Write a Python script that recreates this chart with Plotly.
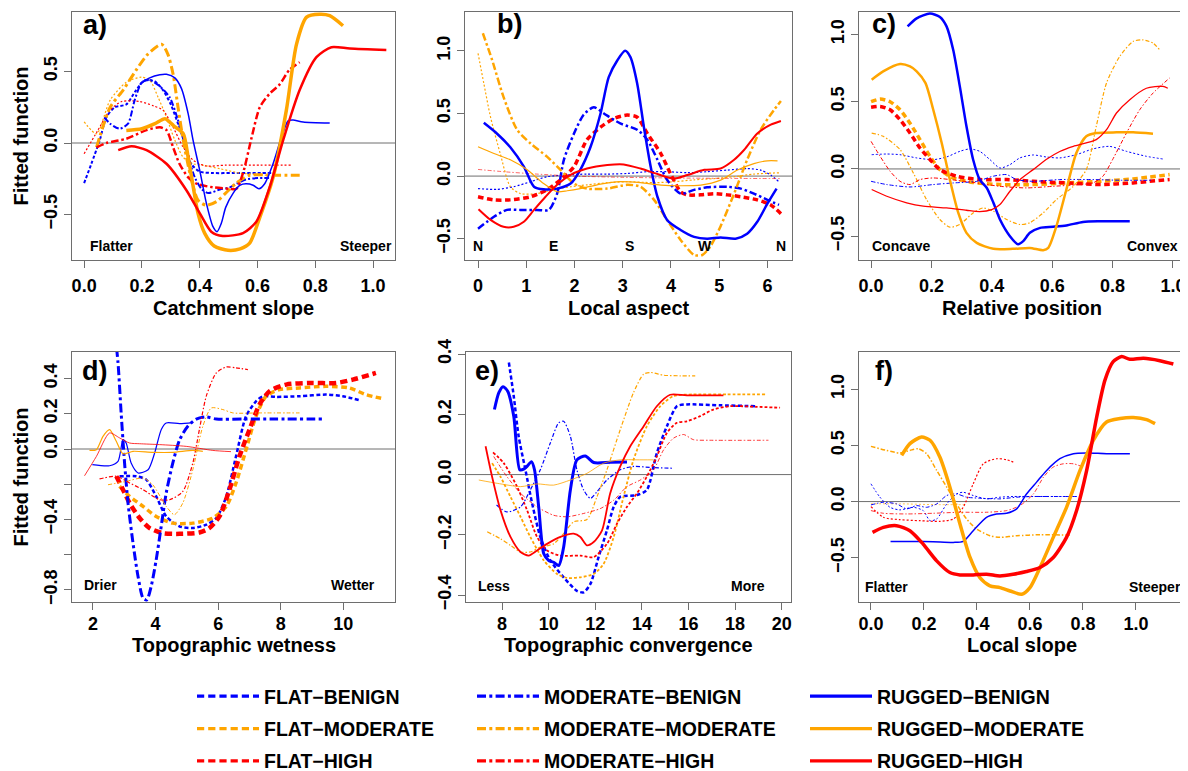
import plotly.graph_objects as go

# ---------------- data ----------------
# Panel a: Catchment slope
a_fb_x = [0, 0.025, 0.054, 0.077, 0.106, 0.146, 0.18, 0.21, 0.245, 0.273, 0.30, 0.325, 0.348, 0.37, 0.40, 0.446, 0.516, 0.61, 0.65]
a_fb_y = [-0.28, -0.145, 0.02, 0.18, 0.25, 0.27, 0.37, 0.44, 0.43, 0.37, 0.27, 0.135, 0.0, -0.145, -0.2, -0.21, -0.21, -0.21, -0.21]
a_fm_x = [0, 0.043, 0.09, 0.146, 0.198, 0.227, 0.256, 0.285, 0.314, 0.343, 0.377, 0.41, 0.47, 0.54, 0.63]
a_fm_y = [0.147, 0.065, 0.30, 0.425, 0.46, 0.44, 0.32, 0.18, 0.02, -0.10, -0.145, -0.155, -0.18, -0.21, -0.225]
a_fh_x = [0, 0.045, 0.09, 0.13, 0.193, 0.24, 0.273, 0.308, 0.343, 0.377, 0.42, 0.49, 0.61, 0.717]
a_fh_y = [-0.075, 0.08, 0.23, 0.29, 0.29, 0.26, 0.23, 0.11, -0.03, -0.12, -0.16, -0.155, -0.155, -0.155]
a_mb_x = [0.07, 0.09, 0.123, 0.152, 0.175, 0.2, 0.227, 0.26, 0.296, 0.325, 0.354, 0.383, 0.406, 0.43, 0.47, 0.504, 0.527, 0.56, 0.60, 0.64]
a_mb_y = [0.18, 0.135, 0.10, 0.135, 0.30, 0.425, 0.44, 0.40, 0.32, 0.16, -0.05, -0.24, -0.32, -0.35, -0.325, -0.31, -0.285, -0.255, -0.245, -0.245]
a_mm_x = [0.043, 0.09, 0.135, 0.18, 0.22, 0.268, 0.29, 0.308, 0.325, 0.343, 0.366, 0.394, 0.423, 0.458, 0.49, 0.527, 0.573, 0.654, 0.758]
a_mm_y = [-0.03, 0.25, 0.37, 0.51, 0.62, 0.69, 0.62, 0.48, 0.25, 0.02, -0.21, -0.4, -0.435, -0.41, -0.35, -0.28, -0.225, -0.225, -0.225]
a_mh_x = [0.043, 0.077, 0.146, 0.216, 0.262, 0.285, 0.308, 0.33, 0.36, 0.39, 0.446, 0.504, 0.527, 0.55, 0.58, 0.608, 0.642, 0.677, 0.71, 0.746]
a_mh_y = [-0.03, 0.0, 0.03, 0.09, 0.11, 0.09, -0.03, -0.145, -0.24, -0.285, -0.31, -0.32, -0.32, -0.21, 0.04, 0.25, 0.345, 0.41, 0.51, 0.565]
a_rb_x = [0.193, 0.227, 0.262, 0.285, 0.314, 0.337, 0.36, 0.377, 0.40, 0.423, 0.446, 0.46, 0.475, 0.49, 0.516, 0.54, 0.56, 0.585, 0.605, 0.625, 0.654, 0.683, 0.706, 0.723, 0.758, 0.85]
a_rb_y = [0.41, 0.455, 0.477, 0.48, 0.455, 0.38, 0.205, 0.02, -0.19, -0.42, -0.585, -0.62, -0.56, -0.45, -0.35, -0.295, -0.285, -0.295, -0.32, -0.285, -0.145, 0.04, 0.155, 0.16, 0.147, 0.14]
a_rm_x = [0.146, 0.2, 0.245, 0.28, 0.31, 0.343, 0.36, 0.377, 0.394, 0.417, 0.45, 0.498, 0.54, 0.573, 0.608, 0.654, 0.70, 0.735, 0.77, 0.815, 0.85, 0.896]
a_rm_y = [0.088, 0.1, 0.135, 0.17, 0.12, 0.065, -0.1, -0.3, -0.49, -0.63, -0.72, -0.75, -0.74, -0.70, -0.52, -0.24, 0.23, 0.69, 0.88, 0.90, 0.89, 0.82]
a_rh_x = [0.118, 0.164, 0.216, 0.285, 0.354, 0.40, 0.44, 0.48, 0.55, 0.596, 0.642, 0.689, 0.746, 0.804, 0.856, 0.92, 1.046]
a_rh_y = [-0.05, -0.023, -0.05, -0.145, -0.33, -0.49, -0.62, -0.65, -0.63, -0.55, -0.31, 0.02, 0.37, 0.60, 0.67, 0.66, 0.65]

# Panel b: Local aspect
b_fb_x = [0, 0.39, 0.74, 1.09, 1.43, 1.78, 2.26, 2.68, 3.09, 3.51, 3.92, 4.34, 4.75, 5.17, 5.58, 5.86, 6.07, 6.24]
b_fb_y = [-0.1, -0.106, -0.085, -0.045, -0.005, 0.008, 0.016, 0.016, 0.021, 0.035, 0.035, 0.027, 0.035, 0.048, 0.06, 0.048, 0.008, -0.045]
b_fm_x = [0, 0.12, 0.26, 0.46, 0.67, 0.88, 1.22, 1.57, 1.92, 2.26, 2.68, 3.09, 3.65, 4.06, 4.48, 4.89, 5.31, 5.72, 6.28]
b_fm_y = [0.98, 0.74, 0.47, 0.18, -0.085, -0.14, -0.14, -0.106, -0.085, -0.07, -0.053, -0.045, -0.053, -0.045, -0.03, -0.02, -0.005, 0.016, 0.027]
b_fh_x = [0, 0.33, 0.67, 1.09, 1.43, 1.71, 1.99, 2.26, 2.54, 2.82, 3.09, 3.3, 3.51, 3.79, 3.99, 4.2, 4.34, 4.62, 4.89, 5.17, 5.45, 5.79, 6.07, 6.28]
b_fh_y = [-0.165, -0.19, -0.19, -0.165, -0.11, -0.03, 0.075, 0.29, 0.39, 0.46, 0.487, 0.47, 0.34, 0.18, 0.02, -0.125, -0.15, -0.15, -0.14, -0.15, -0.165, -0.19, -0.23, -0.3]
b_mb_x = [0, 0.33, 0.6, 0.88, 1.22, 1.47, 1.64, 1.78, 1.99, 2.19, 2.4, 2.61, 2.95, 3.3, 3.51, 3.72, 3.92, 4.2, 4.48, 4.75, 5.17, 5.45, 5.72, 6.0, 6.24]
b_mb_y = [-0.42, -0.325, -0.27, -0.27, -0.27, -0.27, -0.14, 0.13, 0.34, 0.49, 0.55, 0.5, 0.42, 0.37, 0.29, 0.13, -0.03, -0.14, -0.11, -0.09, -0.085, -0.1, -0.14, -0.19, -0.23]
b_mm_x = [0.1, 0.29, 0.53, 0.81, 1.09, 1.43, 1.71, 1.99, 2.26, 2.68, 3.09, 3.37, 3.65, 3.92, 4.2, 4.48, 4.65, 4.82, 5.03, 5.31, 5.58, 5.86, 6.14, 6.28]
b_mm_y = [1.14, 0.93, 0.63, 0.37, 0.26, 0.155, 0.05, -0.06, -0.1, -0.1, -0.07, -0.085, -0.19, -0.35, -0.51, -0.63, -0.63, -0.56, -0.4, -0.14, 0.13, 0.37, 0.53, 0.6]
b_mh_x = [0, 0.53, 1.22, 2.0, 3.0, 4.0, 5.0, 6.28]
b_mh_y = [0.053, 0.035, 0.016, 0.0, -0.01, -0.015, -0.018, -0.02]
b_rb_x = [0.12, 0.39, 0.67, 0.95, 1.16, 1.36, 1.64, 1.92, 2.12, 2.33, 2.54, 2.71, 2.89, 3.05, 3.16, 3.3, 3.44, 3.58, 3.72, 3.92, 4.2, 4.48, 4.75, 5.03, 5.34, 5.58, 5.79, 6.0, 6.19]
b_rb_y = [0.425, 0.34, 0.23, 0.075, -0.085, -0.106, -0.1, -0.06, 0.05, 0.23, 0.5, 0.79, 0.925, 1.0, 0.95, 0.74, 0.39, 0.075, -0.165, -0.35, -0.43, -0.485, -0.5, -0.49, -0.5, -0.46, -0.365, -0.22, -0.1]
b_rm_x = [0, 0.33, 0.67, 1.02, 1.36, 1.64, 1.85, 2.12, 2.54, 2.95, 3.37, 3.79, 4.2, 4.62, 5.03, 5.38, 5.72, 6.0, 6.21]
b_rm_y = [0.234, 0.18, 0.13, 0.05, -0.06, -0.125, -0.117, -0.1, -0.064, -0.045, -0.053, -0.072, -0.077, -0.072, -0.032, 0.048, 0.1, 0.122, 0.122]
b_rh_x = [0.01, 0.26, 0.53, 0.74, 0.95, 1.16, 1.4, 1.64, 1.92, 2.26, 2.68, 3.02, 3.37, 3.72, 4.06, 4.34, 4.69, 5.03, 5.31, 5.52, 5.79, 6.07, 6.28]
b_rh_y = [-0.265, -0.35, -0.405, -0.405, -0.365, -0.27, -0.165, -0.07, 0.01, 0.06, 0.088, 0.093, 0.06, 0.016, -0.02, 0.008, 0.05, 0.06, 0.13, 0.21, 0.34, 0.41, 0.44]

# Panel c: Relative position
c_fb_x = [0.002, 0.052, 0.096, 0.151, 0.206, 0.25, 0.294, 0.327, 0.36, 0.394, 0.427, 0.46, 0.493, 0.537, 0.58, 0.625, 0.68, 0.735, 0.79, 0.846, 0.912, 0.967]
c_fb_y = [0.106, 0.111, 0.106, 0.082, 0.069, 0.089, 0.131, 0.149, 0.131, 0.069, 0.007, 0.032, 0.082, 0.104, 0.089, 0.082, 0.106, 0.149, 0.168, 0.131, 0.094, 0.074]
c_fm_x = [0, 0.03, 0.063, 0.096, 0.129, 0.162, 0.195, 0.228, 0.272, 0.338, 0.427, 0.537, 0.647, 0.757, 0.868, 0.923, 0.989]
c_fm_y = [0.5, 0.52, 0.5, 0.44, 0.34, 0.218, 0.094, -0.005, -0.067, -0.1, -0.116, -0.116, -0.104, -0.092, -0.074, -0.06, -0.042]
c_fh_x = [0, 0.03, 0.063, 0.096, 0.129, 0.162, 0.195, 0.228, 0.283, 0.36, 0.449, 0.537, 0.647, 0.757, 0.868, 0.923, 0.989]
c_fh_y = [0.458, 0.465, 0.44, 0.366, 0.267, 0.156, 0.07, -0.005, -0.054, -0.079, -0.079, -0.092, -0.104, -0.116, -0.104, -0.092, -0.079]
c_mb_x = [0, 0.052, 0.129, 0.206, 0.272, 0.35, 0.405, 0.449, 0.482, 0.537, 0.625, 0.735, 0.824, 0.934]
c_mb_y = [-0.092, -0.116, -0.134, -0.116, -0.104, -0.092, -0.054, -0.042, -0.079, -0.092, -0.079, -0.079, -0.084, -0.084]
c_mm_x = [0.002, 0.04, 0.096, 0.14, 0.184, 0.228, 0.261, 0.294, 0.338, 0.371, 0.405, 0.449, 0.493, 0.526, 0.57, 0.614, 0.67, 0.713, 0.746, 0.78, 0.824, 0.868, 0.9, 0.934, 0.956]
c_mm_y = [0.267, 0.243, 0.144, -0.03, -0.228, -0.376, -0.433, -0.413, -0.327, -0.29, -0.314, -0.376, -0.413, -0.4, -0.327, -0.228, -0.129, -0.005, 0.317, 0.639, 0.837, 0.948, 0.96, 0.936, 0.886]
c_mh_x = [0, 0.03, 0.063, 0.096, 0.129, 0.162, 0.206, 0.261, 0.338, 0.427, 0.515, 0.603, 0.691, 0.735, 0.768, 0.8, 0.846, 0.89, 0.934, 0.989]
c_mh_y = [0.205, 0.094, -0.017, -0.092, -0.116, -0.079, -0.067, -0.079, -0.1, -0.129, -0.141, -0.129, -0.116, -0.104, -0.054, 0.069, 0.267, 0.44, 0.564, 0.676]
c_rb_x = [0.121, 0.151, 0.195, 0.228, 0.25, 0.272, 0.294, 0.316, 0.338, 0.36, 0.383, 0.405, 0.427, 0.46, 0.487, 0.504, 0.526, 0.56, 0.603, 0.647, 0.702, 0.757, 0.857]
c_rb_y = [1.06, 1.12, 1.155, 1.13, 1.06, 0.886, 0.614, 0.317, 0.07, -0.08, -0.14, -0.25, -0.376, -0.5, -0.56, -0.537, -0.475, -0.438, -0.43, -0.42, -0.394, -0.389, -0.389]
c_rm_x = [0.002, 0.04, 0.096, 0.129, 0.151, 0.18, 0.206, 0.234, 0.261, 0.289, 0.316, 0.35, 0.405, 0.47, 0.526, 0.57, 0.587, 0.614, 0.647, 0.68, 0.713, 0.746, 0.813, 0.868, 0.934]
c_rm_y = [0.663, 0.725, 0.78, 0.762, 0.725, 0.64, 0.44, 0.193, -0.08, -0.327, -0.475, -0.55, -0.594, -0.594, -0.587, -0.604, -0.587, -0.426, -0.153, 0.119, 0.243, 0.267, 0.272, 0.272, 0.262]
c_rh_x = [0.002, 0.052, 0.118, 0.173, 0.25, 0.316, 0.36, 0.4, 0.427, 0.46, 0.493, 0.537, 0.58, 0.625, 0.67, 0.713, 0.746, 0.78, 0.813, 0.857, 0.912, 0.967, 0.983]
c_rh_y = [-0.153, -0.203, -0.252, -0.277, -0.29, -0.307, -0.317, -0.302, -0.265, -0.166, -0.08, -0.005, 0.07, 0.13, 0.168, 0.193, 0.218, 0.292, 0.416, 0.515, 0.6, 0.614, 0.6]

# Panel d: Topographic wetness
d_fb_x = [2.85, 3.38, 3.7, 4.02, 4.34, 4.77, 5.19, 5.62, 5.94, 6.26, 6.57, 6.89, 7.21, 7.43, 7.85, 8.6, 9.45, 9.98, 10.51]
d_fb_y = [-0.155, -0.155, -0.174, -0.269, -0.383, -0.44, -0.449, -0.43, -0.392, -0.269, -0.042, 0.186, 0.271, 0.3, 0.296, 0.3, 0.309, 0.3, 0.277]
d_fm_x = [2.85, 3.17, 3.6, 4.02, 4.55, 5.19, 5.83, 6.26, 6.57, 6.89, 7.21, 7.53, 7.96, 8.6, 9.45, 10.19, 10.72, 11.31]
d_fm_y = [-0.212, -0.269, -0.326, -0.383, -0.421, -0.421, -0.392, -0.326, -0.193, -0.004, 0.186, 0.3, 0.337, 0.347, 0.356, 0.347, 0.309, 0.284]
d_fh_x = [2.745, 2.96, 3.17, 3.49, 3.81, 4.23, 4.77, 5.4, 5.72, 6.04, 6.36, 6.68, 7.0, 7.32, 7.64, 8.17, 8.91, 9.77, 10.3, 11.04]
d_fh_y = [-0.155, -0.231, -0.307, -0.392, -0.449, -0.478, -0.482, -0.474, -0.449, -0.383, -0.231, -0.042, 0.11, 0.252, 0.328, 0.366, 0.375, 0.375, 0.394, 0.432]
d_mb_x = [2.69, 2.8, 2.9, 3.01, 3.12, 3.28, 3.44, 3.6, 3.72, 3.86, 4.02, 4.18, 4.34, 4.55, 4.77, 5.03, 5.3, 5.62, 5.94, 6.79, 7.85, 9.34]
d_mb_y = [0.68, 0.49, 0.205, -0.08, -0.307, -0.535, -0.724, -0.847, -0.857, -0.78, -0.63, -0.44, -0.25, -0.08, 0.053, 0.129, 0.17, 0.182, 0.17, 0.17, 0.17, 0.17]
d_mm_x = [2.48, 3.06, 3.6, 3.91, 4.34, 4.6, 4.87, 5.19, 5.51, 5.78, 6.15, 6.47, 7.32, 8.6]
d_mm_y = [-0.203, -0.184, -0.165, -0.203, -0.326, -0.373, -0.307, -0.118, 0.129, 0.233, 0.224, 0.205, 0.205, 0.205]
d_mh_x = [2.21, 2.745, 3.17, 3.6, 4.13, 4.45, 4.87, 5.19, 5.4, 5.62, 5.94, 6.26, 6.57, 6.95]
d_mh_y = [-0.17, -0.155, -0.193, -0.231, -0.288, -0.288, -0.241, -0.08, 0.11, 0.3, 0.432, 0.466, 0.461, 0.451]
d_rb_x = [1.98, 2.53, 2.8, 2.96, 3.06, 3.22, 3.44, 3.76, 3.97, 4.18, 4.34, 4.77, 5.19]
d_rb_y = [-0.089, -0.095, -0.07, 0.053, 0.034, -0.08, -0.136, -0.118, -0.023, 0.11, 0.148, 0.144, 0.15]
d_rm_x = [1.89, 2.11, 2.32, 2.53, 2.745, 2.96, 3.28, 3.91, 4.55, 5.19, 5.51]
d_rm_y = [-0.008, -0.004, 0.072, 0.11, 0.044, -0.027, -0.013, -0.019, -0.019, -0.008, -0.013]
d_rh_x = [1.73, 2.11, 2.53, 2.85, 3.17, 3.49, 4.13, 4.98, 5.83, 6.41]
d_rh_y = [-0.152, -0.042, 0.091, 0.063, 0.034, 0.03, 0.025, 0.015, -0.008, -0.015]

# Panel e: Topographic convergence
e_fb_x = [8.29, 8.5, 8.71, 9.0, 9.29, 9.64, 10.07, 10.64, 11.21, 11.5, 11.79, 12.14, 12.5, 12.79, 13.07, 13.79, 14.21, 14.64, 15.07, 15.5, 15.93, 17.36, 18.93]
e_fb_y = [0.372, 0.26, 0.127, 0.016, -0.096, -0.207, -0.285, -0.341, -0.386, -0.391, -0.363, -0.274, -0.185, -0.107, -0.074, -0.068, -0.051, 0.071, 0.16, 0.227, 0.233, 0.23, 0.227]
e_fm_x = [7.57, 7.93, 8.36, 8.79, 9.21, 9.79, 10.36, 10.79, 11.36, 11.93, 12.36, 12.79, 13.21, 13.64, 14.21, 14.79, 15.36, 16.21, 17.64, 19.29]
e_fm_y = [0.038, -0.007, -0.074, -0.14, -0.207, -0.285, -0.33, -0.343, -0.341, -0.33, -0.296, -0.207, -0.074, 0.049, 0.16, 0.227, 0.261, 0.266, 0.266, 0.266]
e_fh_x = [7.61, 8.07, 8.64, 9.07, 9.5, 9.93, 10.5, 11.36, 11.93, 12.5, 12.93, 13.36, 13.79, 14.21, 14.64, 15.07, 15.5, 15.93, 16.5, 17.07, 17.79, 18.93, 19.93]
e_fh_y = [0.074, 0.038, -0.04, -0.118, -0.207, -0.252, -0.269, -0.269, -0.274, -0.23, -0.163, -0.107, -0.062, -0.007, 0.06, 0.138, 0.172, 0.177, 0.194, 0.216, 0.227, 0.225, 0.222]
e_mb_x = [7.76, 8.21, 8.79, 9.21, 9.64, 10.07, 10.43, 10.64, 10.93, 11.21, 11.5, 11.79, 12.07, 12.5, 13.07, 13.64, 14.5, 15.36]
e_mb_y = [-0.101, -0.124, -0.107, -0.051, 0.016, 0.105, 0.172, 0.177, 0.127, 0.016, -0.051, -0.079, -0.057, -0.018, 0.016, 0.027, 0.023, 0.021]
e_mm_x = [7.36, 7.93, 8.36, 8.79, 9.21, 9.64, 10.21, 10.64, 11.07, 11.64, 12.07, 12.5, 13.07, 13.64, 14.07, 14.36, 14.93, 15.64, 16.29]
e_mm_y = [-0.19, -0.213, -0.235, -0.257, -0.257, -0.241, -0.23, -0.196, -0.157, -0.149, -0.074, 0.016, 0.149, 0.272, 0.333, 0.339, 0.33, 0.328, 0.328]
e_mh_x = [7.64, 8.21, 8.79, 9.5, 10.21, 10.79, 11.5, 12.21, 12.79, 13.36, 13.93, 14.5, 14.93, 15.36, 15.79, 16.21, 16.93, 19.43]
e_mh_y = [0.06, -0.007, -0.062, -0.107, -0.135, -0.14, -0.129, -0.113, -0.085, -0.04, -0.018, 0.016, 0.082, 0.121, 0.133, 0.116, 0.114, 0.114]
e_rb_x = [7.67, 7.86, 8.04, 8.24, 8.5, 8.76, 8.93, 9.07, 9.26, 9.39, 9.57, 9.79, 10.0, 10.21, 10.43, 10.64, 10.93, 11.21, 11.57, 11.93, 12.64, 13.36]
e_rb_y = [0.216, 0.272, 0.292, 0.277, 0.194, 0.016, 0.018, 0.027, 0.043, 0.016, -0.107, -0.263, -0.285, -0.291, -0.302, -0.241, -0.051, 0.049, 0.062, 0.04, 0.041, 0.042]
e_rm_x = [7.0, 7.79, 8.79, 9.5, 10.21, 10.93, 11.64, 12.36, 13.07, 13.79, 14.5]
e_rm_y = [-0.018, -0.029, -0.04, -0.031, -0.035, -0.018, 0.004, 0.038, 0.049, 0.049, 0.049]
e_rh_x = [7.29, 7.57, 7.93, 8.36, 8.79, 9.14, 9.5, 9.93, 10.5, 11.07, 11.36, 11.64, 11.93, 12.29, 12.64, 13.07, 13.5, 14.07, 14.64, 15.21, 15.93, 17.5]
e_rh_y = [0.094, -0.007, -0.118, -0.207, -0.257, -0.269, -0.252, -0.23, -0.207, -0.196, -0.207, -0.235, -0.224, -0.185, -0.062, 0.027, 0.094, 0.16, 0.227, 0.265, 0.263, 0.263]

# Panel f: Local slope
f_fb_x = [0, 0.034, 0.072, 0.109, 0.16, 0.197, 0.223, 0.248, 0.286, 0.323, 0.348, 0.386, 0.436, 0.487, 0.537, 0.613, 0.688, 0.776]
f_fb_y = [0.158, 0.039, -0.051, -0.074, -0.051, -0.08, -0.17, -0.155, -0.021, 0.068, 0.083, 0.054, 0.024, 0.039, 0.045, 0.045, 0.045, 0.045]
f_fm_x = [0, 0.109, 0.235, 0.361]
f_fm_y = [-0.02, -0.02, -0.027, -0.027]
f_fh_x = [0, 0.047, 0.109, 0.185, 0.26, 0.311, 0.348, 0.386, 0.424, 0.474, 0.512, 0.537]
f_fh_y = [-0.045, -0.14, -0.161, -0.17, -0.176, -0.155, -0.051, 0.158, 0.336, 0.381, 0.372, 0.351]
f_mb_x = [0, 0.047, 0.097, 0.135, 0.172, 0.21, 0.248, 0.286, 0.323, 0.361, 0.411, 0.487, 0.55, 0.613, 0.688, 0.776]
f_mb_y = [-0.03, -0.006, -0.021, -0.065, -0.036, -0.051, -0.021, 0.054, 0.068, 0.039, 0.03, 0.024, 0.039, 0.045, 0.045, 0.045]
f_mm_x = [0, 0.059, 0.109, 0.147, 0.179, 0.21, 0.248, 0.286, 0.323, 0.361, 0.399, 0.449, 0.487, 0.55, 0.638, 0.751]
f_mm_y = [0.491, 0.455, 0.432, 0.455, 0.47, 0.426, 0.277, 0.128, -0.021, -0.155, -0.244, -0.304, -0.318, -0.304, -0.295, -0.298]
f_mh_x = [0, 0.047, 0.135, 0.235, 0.336, 0.436, 0.512, 0.562, 0.613, 0.651, 0.688, 0.726, 0.764, 0.801]
f_mh_y = [-0.08, -0.104, -0.11, -0.104, -0.095, -0.095, -0.08, -0.036, 0.068, 0.217, 0.307, 0.336, 0.336, 0.307]
f_rb_x = [0.074, 0.16, 0.235, 0.311, 0.348, 0.386, 0.436, 0.474, 0.512, 0.55, 0.587, 0.625, 0.663, 0.713, 0.764, 0.814, 0.889, 0.977]
f_rb_y = [-0.354, -0.354, -0.357, -0.363, -0.354, -0.259, -0.14, -0.11, -0.104, -0.065, 0.068, 0.173, 0.277, 0.381, 0.426, 0.432, 0.426, 0.426]
f_rm_x = [0.116, 0.147, 0.191, 0.223, 0.26, 0.298, 0.336, 0.374, 0.411, 0.449, 0.487, 0.525, 0.569, 0.6, 0.638, 0.688, 0.738, 0.789, 0.839, 0.889, 0.94, 0.99, 1.04, 1.072]
f_rm_y = [0.41, 0.515, 0.574, 0.545, 0.396, 0.128, -0.199, -0.497, -0.676, -0.75, -0.765, -0.795, -0.824, -0.765, -0.586, -0.318, -0.051, 0.277, 0.545, 0.708, 0.738, 0.747, 0.729, 0.693]
f_rh_x = [0.006, 0.047, 0.097, 0.147, 0.197, 0.248, 0.298, 0.336, 0.386, 0.436, 0.487, 0.537, 0.587, 0.638, 0.688, 0.738, 0.776, 0.814, 0.852, 0.883, 0.914, 0.946, 0.977, 1.028, 1.09, 1.141]
f_rh_y = [-0.274, -0.229, -0.214, -0.259, -0.378, -0.527, -0.631, -0.652, -0.652, -0.646, -0.661, -0.646, -0.622, -0.586, -0.497, -0.318, -0.08, 0.277, 0.753, 1.08, 1.244, 1.289, 1.265, 1.274, 1.253, 1.223]

SERIES = ["FLAT\u2212BENIGN", "FLAT\u2212MODERATE", "FLAT\u2212HIGH",
          "MODERATE\u2212BENIGN", "MODERATE\u2212MODERATE", "MODERATE\u2212HIGH",
          "RUGGED\u2212BENIGN", "RUGGED\u2212MODERATE", "RUGGED\u2212HIGH"]
KEYS = ["fb", "fm", "fh", "mb", "mm", "mh", "rb", "rm", "rh"]

X_TITLES = ["Catchment slope", "Local aspect", "Relative position",
            "Topographic wetness", "Topographic convergence", "Local slope"]

# ---------------- styling ----------------
OFF = 8  # page body margin of the browser
W, H = 1188 - OFF, 771 - OFF   # figure fits the window without overflow
COLORS = {"b": "#0000FF", "m": "#FFA500", "h": "#FF0000"}
WIDTHS = {
    "a": dict(fb=2.0, fm=1.2, fh=1.2, mb=2.0, mm=3.0, mh=2.5, rb=1.5, rm=3.5, rh=2.5),
    "b": dict(fb=1.2, fm=1.2, fh=3.5, mb=2.5, mm=2.5, mh=0.6, rb=2.5, rm=1.2, rh=2.0),
    "c": dict(fb=1.0, fm=3.5, fh=3.5, mb=1.0, mm=1.2, mh=1.0, rb=2.5, rm=2.5, rh=1.3),
    "d": dict(fb=2.5, fm=3.5, fh=4.5, mb=3.0, mm=1.0, mh=1.2, rb=1.2, rm=1.2, rh=0.8),
    "e": dict(fb=2.5, fm=1.8, fh=1.8, mb=1.2, mm=1.2, mh=0.8, rb=3.0, rm=0.8, rh=1.8),
    "f": dict(fb=1.0, fm=0.7, fh=1.2, mb=1.0, mm=1.5, mh=0.8, rb=1.5, rm=3.5, rh=3.5),
}


def dash_for(kind, w):
    if kind == "f":
        on = max(2.0, min(7.5, 1.6 * w))
        off = max(2.0, min(4.0, 1.0 * w))
        return f"{on:.1f}px,{off:.1f}px"
    if kind == "m":
        lg, gp, sh = max(4.0, 3.0 * w), max(2.0, 1.1 * w), max(1.5, 1.0 * w)
        return f"{lg:.1f}px,{gp:.1f}px,{sh:.1f}px,{gp:.1f}px"
    return "solid"


def px_x(p):
    return (p - OFF) / W


def px_y(p):
    return 1 - (p - OFF) / H


FONT = "Liberation Sans, Arial, sans-serif"

BOXES = {
    "a": (72, 395, 12, 260), "b": (465, 792, 12, 260), "c": (859, 1185, 12, 260),
    "d": (72, 395, 352, 602), "e": (466, 791, 352, 602), "f": (859, 1185, 352, 602),
}
RANGES = {
    "a": ([-0.042, 1.076], [-0.818, 0.916]),
    "b": ([-0.27, 6.51], [-0.67, 1.31]),
    "c": ([-0.04, 1.04], [-0.677, 1.167]),
    "d": ([1.33, 11.65], [-0.869, 0.551]),
    "e": ([6.45, 20.4], [-0.423, 0.407]),
    "f": ([-0.045, 1.185], [-0.893, 1.33]),
}
XTICKS = {
    "a": [0, 0.2, 0.4, 0.6, 0.8, 1.0], "b": [0, 1, 2, 3, 4, 5, 6],
    "c": [0, 0.2, 0.4, 0.6, 0.8, 1.0], "d": [2, 4, 6, 8, 10],
    "e": [8, 10, 12, 14, 16, 18, 20], "f": [0, 0.2, 0.4, 0.6, 0.8, 1.0],
}
YTICKS = {
    "a": [-0.5, 0, 0.5], "b": [-0.5, 0, 0.5, 1.0], "c": [-0.5, 0, 0.5, 1.0],
    "d": [-0.8, -0.6, -0.4, -0.2, 0, 0.2, 0.4], "e": [-0.4, -0.2, 0, 0.2, 0.4],
    "f": [-0.5, 0, 0.5, 1.0],
}
XTITLE_Y = {"a": 308, "b": 308, "c": 308, "d": 645, "e": 645, "f": 645}
XLABEL_STANDOFF = {"a": 2, "b": 2, "c": 2, "d": -2, "e": -2, "f": -2}


def fmt(v, dec):
    s = f"{v:.{dec}f}"
    return s.replace("-", "\u2212")


fig = go.Figure()
panels = ["a", "b", "c", "d", "e", "f"]
g = globals()
layout = dict(width=W, height=H, margin=dict(l=0, r=0, t=0, b=0, autoexpand=False),
              paper_bgcolor="white", plot_bgcolor="white", showlegend=True)
shapes, annotations = [], []

for i, p in enumerate(panels):
    sfx = "" if i == 0 else str(i + 1)
    xa, ya = "x" + sfx, "y" + sfx
    for k in KEYS:
        w = WIDTHS[p][k]
        fig.add_trace(go.Scatter(
            x=g[f"{p}_{k}_x"], y=g[f"{p}_{k}_y"], mode="lines",
            line=dict(color=COLORS[k[1]], width=w, dash=dash_for(k[0], w),
                      shape="spline", smoothing=0.7),
            xaxis=xa, yaxis=ya, showlegend=False, hoverinfo="skip"))
    l, r, t, b = BOXES[p]
    xr, yr = RANGES[p]
    axcommon = dict(showgrid=False, zeroline=False, showline=True, mirror=True,
                    linecolor="#6e6e6e", linewidth=1, ticks="outside", ticklen=7,
                    tickcolor="#6e6e6e", tickwidth=1, automargin=False,
                    tickfont=dict(family=FONT, size=18, color="black", weight="bold"))
    xdec = 0 if p in ("b", "d", "e") else 1
    yt = YTICKS[p]
    ytext = [fmt(v, 1) for v in yt]
    if p == "d":
        ytext = [("" if abs(v + 0.2) < 1e-9 or abs(v + 0.6) < 1e-9 else fmt(v, 1)) for v in yt]
    layout["xaxis" + sfx] = dict(
        axcommon, domain=[px_x(l), px_x(r)], range=xr, anchor=ya,
        tickvals=XTICKS[p], ticktext=[fmt(v, xdec) for v in XTICKS[p]],
        ticklabelstandoff=XLABEL_STANDOFF[p])
    ydict = dict(axcommon, domain=[px_y(b), px_y(t)], range=yr, anchor=xa,
                 tickvals=yt, ticktext=ytext, tickangle=-90)
    if p in ("a", "d"):
        ydict["title"] = dict(text="Fitted function",
                              font=dict(family=FONT, size=20, color="black", weight="bold"),
                              standoff=6)
    layout["yaxis" + sfx] = ydict
    shapes.append(dict(type="line", xref=f"{xa} domain", x0=0, x1=1, yref=ya, y0=0, y1=0,
                       line=dict(color="#6e6e6e", width=1), layer="below"))
    annotations.append(dict(text=X_TITLES[i], x=px_x((l + r) / 2), y=px_y(XTITLE_Y[p]),
                            xref="paper", yref="paper", xanchor="center", yanchor="middle",
                            showarrow=False,
                            font=dict(family=FONT, size=20, color="black", weight="bold")))

LETTER_POS = {"a": (81, 25), "b": (495, 24), "c": (870, 24),
              "d": (80, 371), "e": (473, 371), "f": (873, 371)}
for p, (x, y) in LETTER_POS.items():
    annotations.append(dict(text=p + ")", x=px_x(x), y=px_y(y), xref="paper", yref="paper",
                            xanchor="left", yanchor="middle", showarrow=False,
                            font=dict(family=FONT, size=27, color="black", weight="bold")))

CORNER = [
    ("Flatter", 88, 246, "left"), ("Steeper", 394, 246, "right"),
    ("Concave", 870, 246, "left"), ("Convex", 1180, 246, "right"),
    ("Drier", 82, 585, "left"), ("Wetter", 377, 585, "right"),
    ("Less", 476, 586, "left"), ("More", 767, 586, "right"),
    ("Flatter", 863, 587, "left"), ("Steeper", 1183, 587, "right"),
]
for txt, x, y, anc in CORNER:
    annotations.append(dict(text=txt, x=px_x(x), y=px_y(y), xref="paper", yref="paper",
                            xanchor=anc, yanchor="middle", showarrow=False,
                            font=dict(family=FONT, size=14, color="black", weight="bold")))

ASPECT_LABELS = ["N", "E", "S", "W", "N"]
ASPECT_POS = [0, 1.5708, 3.1416, 4.7124, 6.2832]
for txt, xv in zip(ASPECT_LABELS, ASPECT_POS):
    annotations.append(dict(text=txt, x=xv, y=px_y(246), xref="x2", yref="paper",
                            xanchor="center", yanchor="middle", showarrow=False,
                            font=dict(family=FONT, size=14, color="black", weight="bold")))

LEG_NAMES = ["legend", "legend2", "legend3"]
LEG_DASH = {"f": dash_for("f", 4.5), "m": dash_for("m", 3.0), "r": "solid"}
for j, (name, k) in enumerate(zip(SERIES, KEYS)):
    fig.add_trace(go.Scatter(
        x=[None], y=[None], mode="lines", name=name,
        line=dict(color=COLORS[k[1]], width=3.2, dash=LEG_DASH[k[0]]),
        legend=LEG_NAMES[j // 3], legendgroup=name, showlegend=True))

LEG_X = [192, 472, 805]
for col, name in enumerate(LEG_NAMES):
    layout[name] = dict(x=px_x(LEG_X[col]), y=px_y(677), xanchor="left", yanchor="top",
                        orientation="v", bgcolor="rgba(0,0,0,0)", tracegroupgap=4,
                        itemwidth=62,
                        font=dict(family=FONT, size=19.5, color="black", weight="bold"))

layout["shapes"] = shapes
layout["annotations"] = annotations
fig.update_layout(**layout)
fig.write_html("out.html")
